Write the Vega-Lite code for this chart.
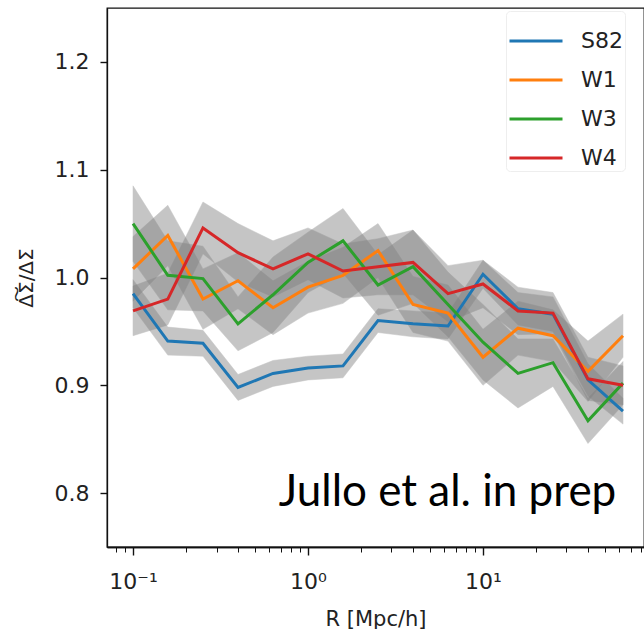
{
  "$schema": "https://vega.github.io/schema/vega-lite/v6.json",
  "autosize": {"type": "none"},
  "padding": {"left": 107, "top": 8, "right": 0, "bottom": 82},
  "width": 537,
  "height": 539,
  "background": "white",
  "config": {
    "view": {"stroke": "#111", "strokeWidth": 1.3},
    "font": "DejaVu Sans"
  },
  "datasets": {
    "curves": [
      {"series": "S82", "R": 0.1, "ratio": 0.985, "lo": 0.972, "hi": 0.998},
      {"series": "S82", "R": 0.158, "ratio": 0.941, "lo": 0.928, "hi": 0.954},
      {"series": "S82", "R": 0.251, "ratio": 0.939, "lo": 0.927, "hi": 0.951},
      {"series": "S82", "R": 0.398, "ratio": 0.898, "lo": 0.886, "hi": 0.910},
      {"series": "S82", "R": 0.631, "ratio": 0.911, "lo": 0.899, "hi": 0.923},
      {"series": "S82", "R": 1.0, "ratio": 0.916, "lo": 0.905, "hi": 0.927},
      {"series": "S82", "R": 1.585, "ratio": 0.918, "lo": 0.907, "hi": 0.929},
      {"series": "S82", "R": 2.512, "ratio": 0.960, "lo": 0.949, "hi": 0.971},
      {"series": "S82", "R": 3.981, "ratio": 0.957, "lo": 0.945, "hi": 0.969},
      {"series": "S82", "R": 6.31, "ratio": 0.955, "lo": 0.943, "hi": 0.967},
      {"series": "S82", "R": 10.0, "ratio": 1.003, "lo": 0.990, "hi": 1.016},
      {"series": "S82", "R": 15.85, "ratio": 0.971, "lo": 0.956, "hi": 0.986},
      {"series": "S82", "R": 25.12, "ratio": 0.966, "lo": 0.950, "hi": 0.982},
      {"series": "S82", "R": 39.81, "ratio": 0.905, "lo": 0.890, "hi": 0.920},
      {"series": "S82", "R": 63.1, "ratio": 0.876, "lo": 0.864, "hi": 0.888},
      {"series": "W1", "R": 0.1, "ratio": 1.008, "lo": 0.978, "hi": 1.038},
      {"series": "W1", "R": 0.158, "ratio": 1.039, "lo": 1.011, "hi": 1.067},
      {"series": "W1", "R": 0.251, "ratio": 0.980, "lo": 0.952, "hi": 1.008},
      {"series": "W1", "R": 0.398, "ratio": 0.997, "lo": 0.971, "hi": 1.023},
      {"series": "W1", "R": 0.631, "ratio": 0.972, "lo": 0.947, "hi": 0.997},
      {"series": "W1", "R": 1.0, "ratio": 0.991, "lo": 0.967, "hi": 1.015},
      {"series": "W1", "R": 1.585, "ratio": 1.002, "lo": 0.976, "hi": 1.028},
      {"series": "W1", "R": 2.512, "ratio": 1.025, "lo": 1.000, "hi": 1.050},
      {"series": "W1", "R": 3.981, "ratio": 0.975, "lo": 0.949, "hi": 1.001},
      {"series": "W1", "R": 6.31, "ratio": 0.967, "lo": 0.941, "hi": 0.993},
      {"series": "W1", "R": 10.0, "ratio": 0.926, "lo": 0.900, "hi": 0.952},
      {"series": "W1", "R": 15.85, "ratio": 0.953, "lo": 0.928, "hi": 0.978},
      {"series": "W1", "R": 25.12, "ratio": 0.946, "lo": 0.922, "hi": 0.970},
      {"series": "W1", "R": 39.81, "ratio": 0.913, "lo": 0.885, "hi": 0.941},
      {"series": "W1", "R": 63.1, "ratio": 0.946, "lo": 0.926, "hi": 0.966},
      {"series": "W3", "R": 0.1, "ratio": 1.050, "lo": 1.015, "hi": 1.085},
      {"series": "W3", "R": 0.158, "ratio": 1.002, "lo": 0.970, "hi": 1.034},
      {"series": "W3", "R": 0.251, "ratio": 0.999, "lo": 0.969, "hi": 1.029},
      {"series": "W3", "R": 0.398, "ratio": 0.957, "lo": 0.932, "hi": 0.982},
      {"series": "W3", "R": 0.631, "ratio": 0.984, "lo": 0.949, "hi": 1.019},
      {"series": "W3", "R": 1.0, "ratio": 1.014, "lo": 0.986, "hi": 1.042},
      {"series": "W3", "R": 1.585, "ratio": 1.034, "lo": 1.004, "hi": 1.064},
      {"series": "W3", "R": 2.512, "ratio": 0.993, "lo": 0.965, "hi": 1.021},
      {"series": "W3", "R": 3.981, "ratio": 1.010, "lo": 0.976, "hi": 1.044},
      {"series": "W3", "R": 6.31, "ratio": 0.975, "lo": 0.945, "hi": 1.005},
      {"series": "W3", "R": 10.0, "ratio": 0.940, "lo": 0.905, "hi": 0.975},
      {"series": "W3", "R": 15.85, "ratio": 0.911, "lo": 0.879, "hi": 0.943},
      {"series": "W3", "R": 25.12, "ratio": 0.921, "lo": 0.899, "hi": 0.943},
      {"series": "W3", "R": 39.81, "ratio": 0.867, "lo": 0.846, "hi": 0.888},
      {"series": "W3", "R": 63.1, "ratio": 0.902, "lo": 0.882, "hi": 0.922},
      {"series": "W4", "R": 0.1, "ratio": 0.969, "lo": 0.946, "hi": 0.992},
      {"series": "W4", "R": 0.158, "ratio": 0.980, "lo": 0.956, "hi": 1.004},
      {"series": "W4", "R": 0.251, "ratio": 1.046, "lo": 1.022, "hi": 1.070},
      {"series": "W4", "R": 0.398, "ratio": 1.023, "lo": 0.996, "hi": 1.050},
      {"series": "W4", "R": 0.631, "ratio": 1.008, "lo": 0.982, "hi": 1.034},
      {"series": "W4", "R": 1.0, "ratio": 1.022, "lo": 0.998, "hi": 1.046},
      {"series": "W4", "R": 1.585, "ratio": 1.006, "lo": 0.981, "hi": 1.031},
      {"series": "W4", "R": 2.512, "ratio": 1.010, "lo": 0.984, "hi": 1.036},
      {"series": "W4", "R": 3.981, "ratio": 1.014, "lo": 0.984, "hi": 1.044},
      {"series": "W4", "R": 6.31, "ratio": 0.985, "lo": 0.959, "hi": 1.011},
      {"series": "W4", "R": 10.0, "ratio": 0.994, "lo": 0.972, "hi": 1.016},
      {"series": "W4", "R": 15.85, "ratio": 0.969, "lo": 0.947, "hi": 0.991},
      {"series": "W4", "R": 25.12, "ratio": 0.967, "lo": 0.948, "hi": 0.986},
      {"series": "W4", "R": 39.81, "ratio": 0.906, "lo": 0.886, "hi": 0.926},
      {"series": "W4", "R": 63.1, "ratio": 0.900, "lo": 0.882, "hi": 0.918}
    ],
    "note": [
      {"R": 6.27, "ratio": 0.788, "label": "Jullo et al. in prep"}
    ]
  },
  "resolve": {"axis": {"x": "independent"}},
  "layer": [
    {
      "data": {"name": "curves"},
      "mark": {"type": "area", "color": "#808080", "opacity": 0.45, "stroke": "#808080", "strokeWidth": 1, "strokeOpacity": 0.5},
      "encoding": {
        "x": {
          "field": "R", "type": "quantitative",
          "scale": {"type": "log", "domain": [0.071, 83.2], "nice": false, "zero": false},
          "axis": {
            "orient": "bottom", "title": null, "labels": false, "ticks": true,
            "values": [0.08, 0.09, 0.2, 0.3, 0.4, 0.5, 0.6, 0.7, 0.8, 0.9, 2, 3, 4, 5, 6, 7, 8, 9, 20, 30, 40, 50, 60, 70, 80],
            "tickSize": 5, "tickWidth": 1, "tickColor": "#111", "domainColor": "#111", "domainWidth": 1.3,
            "grid": false
          }
        },
        "y": {
          "field": "lo", "type": "quantitative",
          "scale": {"domain": [0.75, 1.25], "nice": false, "zero": false},
          "axis": {
            "title": "\u0394\u0360\u03a3/\u0394\u03a3",
            "titleFont": "DejaVu Sans", "titleFontSize": 20, "titleFontWeight": "normal", "titleColor": "#222",
            "titlePadding": 18,
            "values": [0.8, 0.9, 1.0, 1.1, 1.2], "format": ".1f", "ticks": true,
            "labelFont": "DejaVu Sans", "labelFontSize": 22, "labelColor": "#222", "labelPadding": 11,
            "tickSize": 7, "tickWidth": 1.4, "tickColor": "#111", "domainColor": "#111", "domainWidth": 1.3,
            "grid": false
          }
        },
        "y2": {"field": "hi"},
        "detail": {"field": "series"}
      }
    },
    {
      "data": {"name": "curves"},
      "mark": {"type": "line", "strokeWidth": 3},
      "encoding": {
        "x": {
          "field": "R", "type": "quantitative",
          "axis": {
            "orient": "bottom", "title": "R [Mpc/h]",
            "titleFont": "DejaVu Sans", "titleFontSize": 21, "titleFontWeight": "normal", "titleColor": "#222",
            "titlePadding": 16,
            "values": [0.1, 1, 10],
            "labelExpr": "datum.value == 0.1 ? '10\u207b\u00b9' : datum.value == 1 ? '10\u2070' : '10\u00b9'",
            "labelFont": "DejaVu Sans", "labelFontSize": 22, "labelColor": "#222",
            "labelPadding": 16, "labelOverlap": false, "labelFlush": false, "labelBound": false, "ticks": true,
            "tickSize": 8, "tickWidth": 1.4, "tickColor": "#111", "domainColor": "#111", "domainWidth": 1.3,
            "grid": false
          }
        },
        "y": {"field": "ratio", "type": "quantitative"},
        "color": {
          "field": "series", "type": "nominal",
          "scale": {"domain": ["S82", "W1", "W3", "W4"], "range": ["#1f77b4", "#ff7f0e", "#2ca02c", "#d62728"]},
          "legend": {
            "title": null, "orient": "none", "legendX": 399, "legendY": 3,
            "symbolType": "stroke", "symbolSize": 2809, "symbolStrokeWidth": 3,
            "labelFont": "DejaVu Sans", "labelFontSize": 22, "labelColor": "#222", "labelOffset": 17,
            "rowPadding": -21, "padding": 2,
            "strokeColor": "#eeeeee", "fillColor": "rgba(255,255,255,0.8)", "cornerRadius": 4
          }
        }
      }
    },
    {
      "data": {"name": "note"},
      "mark": {"type": "text", "font": "Lato", "fontSize": 44, "color": "#000", "align": "center", "baseline": "alphabetic"},
      "encoding": {
        "x": {"field": "R", "type": "quantitative", "axis": null},
        "y": {"field": "ratio", "type": "quantitative"},
        "text": {"field": "label"}
      }
    }
  ]
}
